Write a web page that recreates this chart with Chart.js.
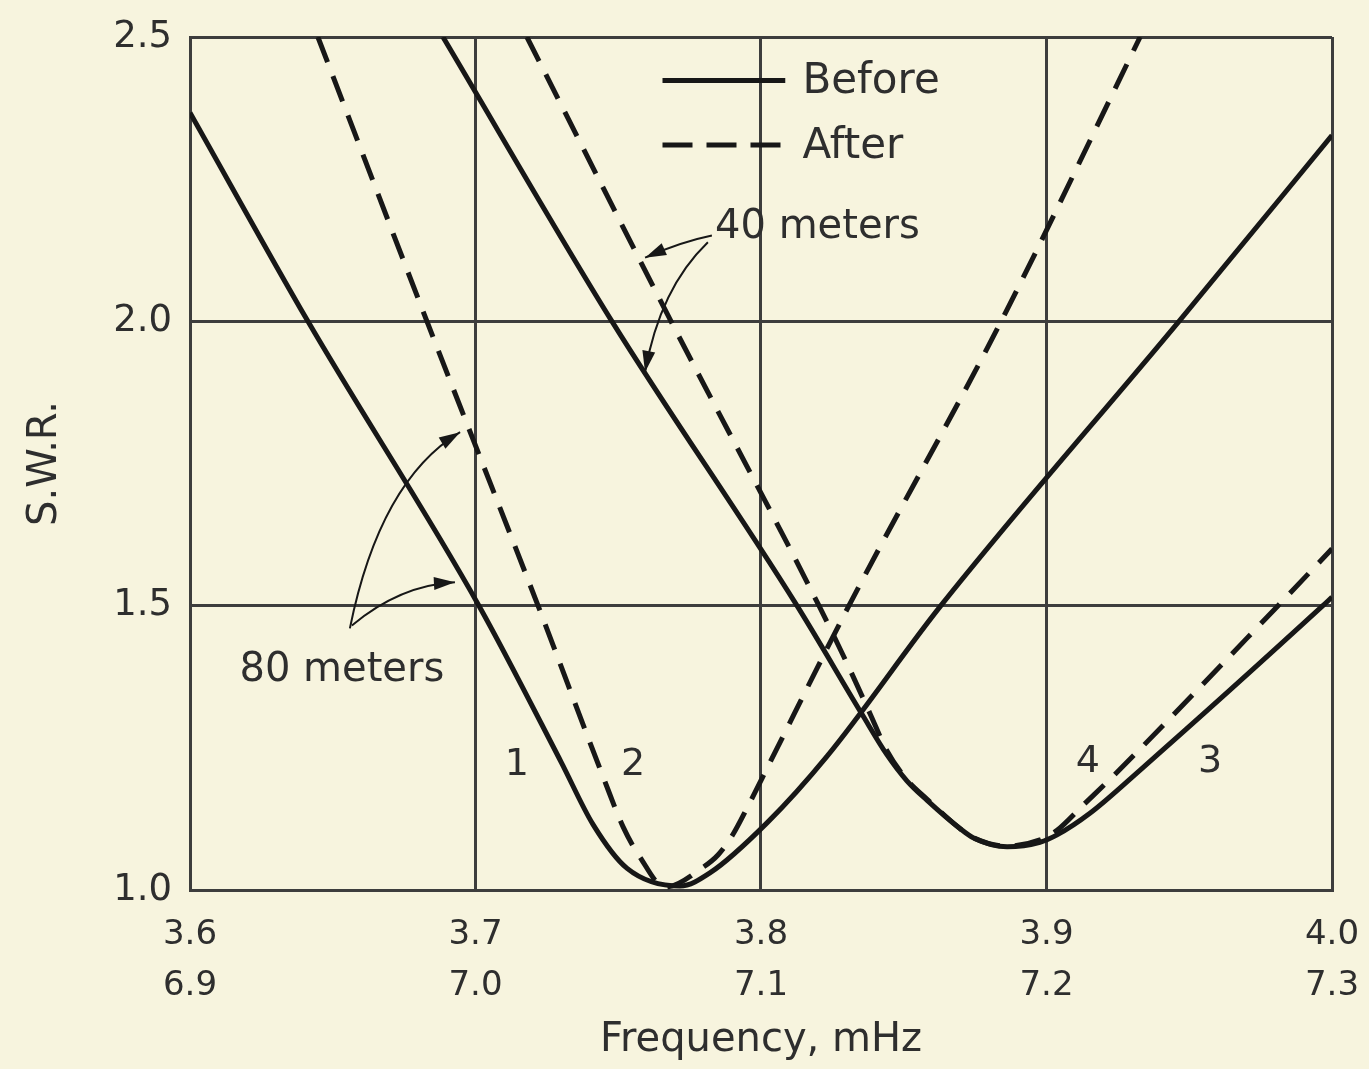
<!DOCTYPE html>
<html>
<head>
<meta charset="utf-8">
<script src="https://cdn.jsdelivr.net/npm/chart.js@4"></script>
<style>
 body{margin:0;background:#f7f4de;}
 #wrap{width:1369px;height:1069px;position:relative;}
</style>
</head>
<body>
<div id="wrap"><canvas id="swrChart"></canvas></div>
<script>
// x axis: 80 m band (top row) and 40 m band (bottom row) labels
const band80 = ["3.6", "3.7", "3.8", "3.9", "4.0"];
const band40 = ["6.9", "7.0", "7.1", "7.2", "7.3"];
const swrTicks = ["1.0", "1.5", "2.0", "2.5"];

// curve 1: 80 meters, before
const freq1 = [3.600, 3.6413, 3.7012, 3.7300, 3.7412, 3.7531, 3.7716, 3.7821, 3.8021, 3.8231, 3.8630, 3.9464, 4.000];
const swr1  = [2.367, 2.000, 1.500, 1.225, 1.115, 1.038, 1.007, 1.030, 1.118, 1.235, 1.500, 2.000, 2.327];

// curve 2: 80 meters, after
const freq2 = [3.6448, 3.6830, 3.7219, 3.7447, 3.7517, 3.7576, 3.7664, 3.7797, 3.7850, 3.7902, 3.7954, 3.8032, 3.8308, 3.8841, 3.9328];
const swr2  = [2.500, 2.000, 1.500, 1.199, 1.111, 1.058, 1.005, 1.040, 1.062, 1.098, 1.147, 1.225, 1.500, 2.000, 2.500];

// curve 3: 40 meters, before
const freq3 = [3.6886, 3.7478, 3.8126, 3.8354, 3.8441, 3.8511, 3.8581, 3.8697, 3.8743, 3.8862, 3.8977, 3.9037, 3.9152, 3.9328, 3.9968, 4.000];
const swr3  = [2.500, 2.000, 1.500, 1.309, 1.238, 1.192, 1.158, 1.108, 1.092, 1.076, 1.084, 1.097, 1.135, 1.211, 1.500, 1.515];

// curve 4: 40 meters, after
const freq4 = [3.7180, 3.7685, 3.8203, 3.8312, 3.8382, 3.8441, 3.8511, 3.8581, 3.8697, 3.8743, 3.8862, 3.8977, 3.9037, 3.9128, 3.9247, 3.9811, 4.000];
const swr4  = [2.500, 2.000, 1.500, 1.387, 1.310, 1.245, 1.194, 1.160, 1.108, 1.092, 1.077, 1.088, 1.105, 1.149, 1.207, 1.500, 1.600];

const legendLabels = ["Before", "After"];

const INK = "#171717";
const TEXT = "#2e2e2e";
const GRID = "#3d3d3d";
const FONT = "'DejaVu Sans', sans-serif";
const DASH = [27, 15];

function pts(fs, ss){
 return fs.map((f, i) => ({x: f, y: ss[i]}));
}

function curve(label, fs, ss, dashed){
 return {
  label: label,
  data: pts(fs, ss),
  borderColor: INK,
  borderWidth: 5,
  borderDash: dashed ? DASH : [],
  pointRadius: 0,
  fill: false,
  cubicInterpolationMode: 'monotone'
 };
}

// text notes and arrows, placed in chart values (freq, swr)
const notes = [
 {text: "40 meters", f: 3.7839, s: 2.165, align: 'left'},
 {text: "80 meters", f: 3.6532, s: 1.386, align: 'center'},
 {text: "1", f: 3.7145, s: 1.22, align: 'center'},
 {text: "2", f: 3.7552, s: 1.22, align: 'center'},
 {text: "4", f: 3.9145, s: 1.225, align: 'center'},
 {text: "3", f: 3.9573, s: 1.225, align: 'center'}
];
const arrows = [
 {from: [3.7828, 2.151], ctrl: [3.7720, 2.140], to: [3.7594, 2.112]},
 {from: [3.7814, 2.139], ctrl: [3.7646, 2.058], to: [3.7594, 1.911]},
 {from: [3.6560, 1.460], ctrl: [3.6665, 1.720], to: [3.6946, 1.805]},
 {from: [3.6567, 1.465], ctrl: [3.6736, 1.536], to: [3.6928, 1.541]}
];

const notesPlugin = {
 id: 'notes',
 afterDatasetsDraw(chart){
  const ctx = chart.ctx;
  const x = chart.scales.x, y = chart.scales.y;
  const px = f => x.getPixelForValue(f);
  const py = s => y.getPixelForValue(s);
  ctx.save();

  // legend
  const lx0 = px(3.7655), lx1 = px(3.8085), tx = px(3.8145);
  const rows = [2.4235, 2.310];
  ctx.font = "42px " + FONT;
  ctx.fillStyle = TEXT;
  ctx.textBaseline = 'middle';
  ctx.textAlign = 'left';
  rows.forEach((s, i) => {
   ctx.strokeStyle = INK;
   ctx.lineWidth = 5;
   ctx.setLineDash(i === 0 ? [] : [30, 14]);
   ctx.beginPath();
   ctx.moveTo(lx0, py(s));
   ctx.lineTo(lx1, py(s));
   ctx.stroke();
   ctx.fillText(legendLabels[i], tx, py(s) + 2);
  });
  ctx.setLineDash([]);

  // notes
  notes.forEach(n => {
   ctx.font = (n.text.length > 1 ? "40px " : "38px ") + FONT;
   ctx.textAlign = n.align;
   ctx.fillText(n.text, px(n.f), py(n.s));
  });

  // arrows
  ctx.strokeStyle = INK;
  ctx.fillStyle = INK;
  ctx.lineWidth = 2;
  arrows.forEach(a => {
   const x0 = px(a.from[0]), y0 = py(a.from[1]);
   const cx = px(a.ctrl[0]), cy = py(a.ctrl[1]);
   const x1 = px(a.to[0]), y1 = py(a.to[1]);
   ctx.beginPath();
   ctx.moveTo(x0, y0);
   ctx.quadraticCurveTo(cx, cy, x1, y1);
   ctx.stroke();
   const ang = Math.atan2(y1 - cy, x1 - cx);
   ctx.beginPath();
   ctx.moveTo(x1, y1);
   ctx.lineTo(x1 - 22 * Math.cos(ang - 0.3), y1 - 22 * Math.sin(ang - 0.3));
   ctx.lineTo(x1 - 22 * Math.cos(ang + 0.3), y1 - 22 * Math.sin(ang + 0.3));
   ctx.closePath();
   ctx.fill();
  });
  ctx.restore();
 }
};

new Chart(document.getElementById('swrChart').getContext('2d'), {
 type: 'line',
 data: {
  datasets: [
   curve("80 meters before", freq1, swr1, false),
   curve("80 meters after", freq2, swr2, true),
   curve("40 meters before", freq3, swr3, false),
   curve("40 meters after", freq4, swr4, true)
  ]
 },
 options: {
  responsive: true,
  maintainAspectRatio: false,
  animation: false,
  layout: {padding: {left: 10, right: 37, top: 37, bottom: 4}},
  plugins: {
   legend: {display: false},
   tooltip: {enabled: false}
  },
  scales: {
   x: {
    type: 'linear',
    min: 3.6,
    max: 4.0,
    afterFit: s => { s.height = 175; s.paddingLeft = 0; s.paddingRight = 0; },
    ticks: {
     stepSize: 0.1,
     padding: 20,
     color: TEXT,
     font: {family: FONT, size: 34, lineHeight: 1.5},
     maxRotation: 0,
     callback: (v, i) => [band80[i], band40[i]]
    },
    grid: {color: GRID, lineWidth: 3, drawTicks: false},
    border: {color: GRID, width: 3},
    title: {
     display: true,
     text: "Frequency, mHz",
     color: TEXT,
     font: {family: FONT, size: 40},
     padding: {top: 0, bottom: 0}
    }
   },
   y: {
    min: 1.0,
    max: 2.5,
    afterFit: s => { s.width = 180; s.paddingTop = 0; s.paddingBottom = 0; },
    ticks: {
     stepSize: 0.5,
     padding: 18,
     color: TEXT,
     font: {family: FONT, size: 37},
     callback: (v, i) => swrTicks[i]
    },
    grid: {color: GRID, lineWidth: 3, drawTicks: false},
    border: {color: GRID, width: 3},
    title: {
     display: true,
     text: "S.W.R.",
     color: TEXT,
     font: {family: FONT, size: 40},
     padding: {top: 12, bottom: 0}
    }
   }
  }
 },
 plugins: [notesPlugin]
});
</script>
</body>
</html>
